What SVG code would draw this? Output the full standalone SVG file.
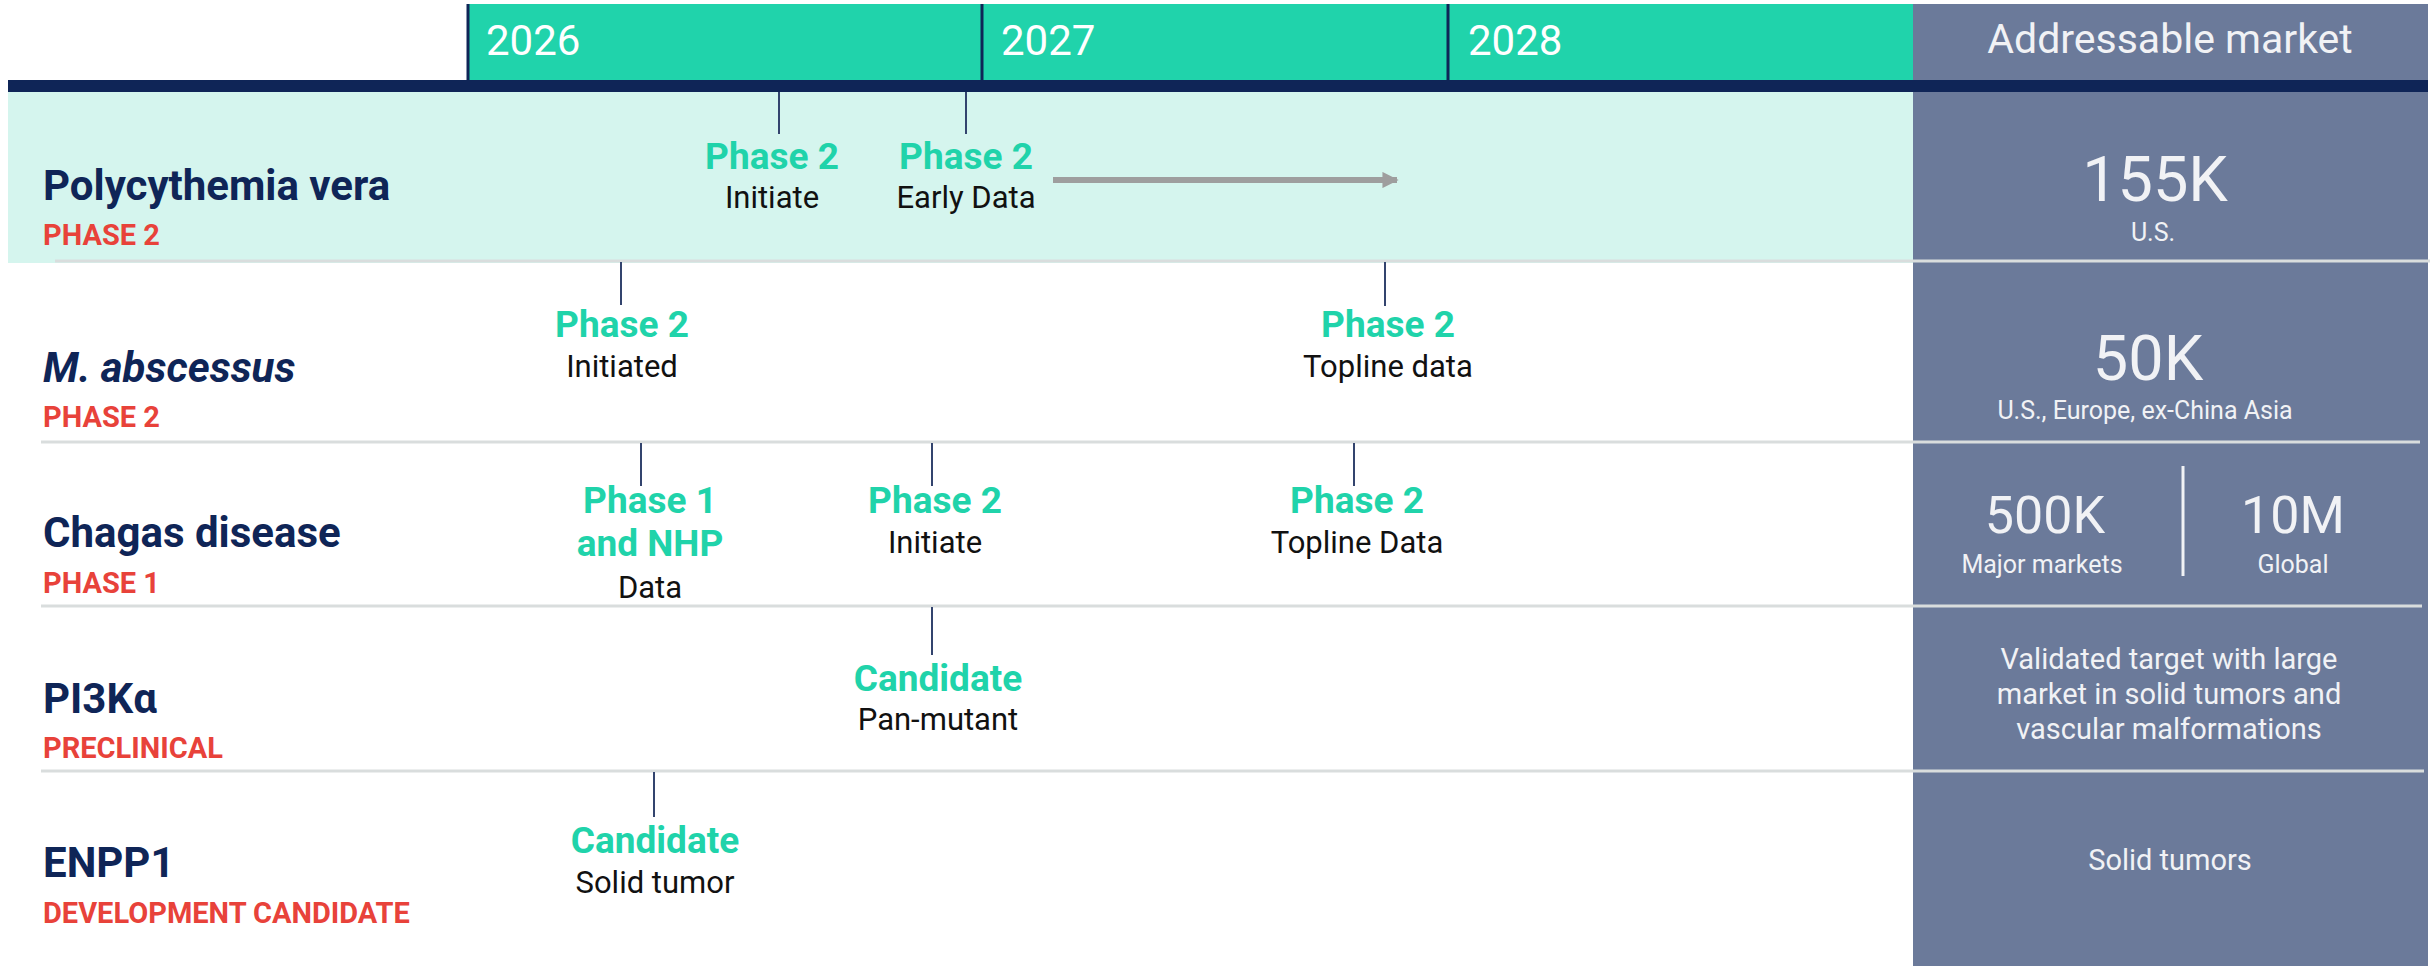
<svg xmlns="http://www.w3.org/2000/svg" width="2435" height="966" viewBox="0 0 2435 966">
  <defs>
    <style>
      text { font-family: Roboto, "Liberation Sans", sans-serif; }
      .year { fill: #ffffff; font-size: 42px; }
      .hdr { fill: #f1f2f5; font-size: 41px; text-anchor: middle; }
      .name { fill: #0f2557; font-size: 42px; font-weight: 700; }
      .stage { fill: #e8423a; font-size: 29px; font-weight: 700; }
      .ms { fill: #20d3aa; font-size: 37px; font-weight: 700; text-anchor: middle; }
      .sub { fill: #111111; font-size: 31px; text-anchor: middle; }
      .big { fill: #f1f2f5; font-size: 63px; text-anchor: middle; }
      .mid { fill: #f1f2f5; font-size: 52px; text-anchor: middle; }
      .small { fill: #f1f2f5; font-size: 25px; text-anchor: middle; }
      .desc { fill: #f1f2f5; font-size: 29px; text-anchor: middle; }
      .tick { stroke: #33446e; stroke-width: 2; }
      .sep { stroke: #d9dddd; stroke-width: 3; }
      .ydiv { stroke: #0f2557; stroke-width: 3; }
    </style>
    <marker id="arrowhead" viewBox="0 0 10 10" refX="9" refY="5" markerWidth="2.7" markerHeight="2.7" orient="auto" markerUnits="strokeWidth">
      <path d="M0,0 L10,5 L0,10 Z" fill="#9e9e9e"/>
    </marker>
  </defs>

  <rect width="2435" height="966" fill="#ffffff"/>

  <!-- timeline header -->
  <g id="header">
    <rect x="467" y="4" width="1446" height="76" fill="#20d3ab"/>
    <line class="ydiv" x1="468" y1="4" x2="468" y2="80"/>
    <line class="ydiv" x1="982" y1="4" x2="982" y2="80"/>
    <line class="ydiv" x1="1448" y1="4" x2="1448" y2="80"/>
    <text class="year" x="486" y="55">2026</text>
    <text class="year" x="1001" y="55">2027</text>
    <text class="year" x="1468" y="55">2028</text>
    <rect x="1913" y="4" width="515" height="76" fill="#6b7a9a"/>
    <text class="hdr" x="2170" y="53">Addressable market</text>
  </g>

  <!-- row backgrounds and market column -->
  <g id="backgrounds">
    <rect x="8" y="92" width="1905" height="171" fill="#d5f5ee"/>
    <rect x="1913" y="92" width="515" height="874" fill="#6b7a9a"/>
    <rect x="8" y="80" width="2420" height="12" fill="#0f2557"/>
  </g>

  <!-- row separators -->
  <g id="separators">
    <line class="sep" x1="55" y1="261" x2="2430" y2="261"/>
    <line class="sep" x1="41" y1="442" x2="2420" y2="442"/>
    <line class="sep" x1="41" y1="606" x2="2422" y2="606"/>
    <line class="sep" x1="41" y1="771" x2="2424" y2="771"/>
  </g>

  <!-- milestone tick connectors and progress arrow -->
  <g id="connectors">
    <line class="tick" x1="779" y1="92" x2="779" y2="134"/>
    <line class="tick" x1="966" y1="92" x2="966" y2="134"/>
    <line class="tick" x1="621" y1="262" x2="621" y2="305"/>
    <line class="tick" x1="1385" y1="262" x2="1385" y2="306"/>
    <line class="tick" x1="641" y1="443" x2="641" y2="486"/>
    <line class="tick" x1="932" y1="443" x2="932" y2="486"/>
    <line class="tick" x1="1354" y1="443" x2="1354" y2="486"/>
    <line class="tick" x1="932" y1="607" x2="932" y2="655"/>
    <line class="tick" x1="654" y1="772" x2="654" y2="817"/>
    <line x1="1053" y1="180" x2="1397" y2="180" stroke="#9e9e9e" stroke-width="6" marker-end="url(#arrowhead)"/>
  </g>

  <!-- Polycythemia vera -->
  <g id="row-polycythemia">
    <text class="name" x="43" y="200">Polycythemia vera</text>
    <text class="stage" x="43" y="245">PHASE 2</text>
    <text class="ms" x="772" y="169">Phase 2</text>
    <text class="sub" x="772" y="208">Initiate</text>
    <text class="ms" x="966" y="169">Phase 2</text>
    <text class="sub" x="966" y="208">Early Data</text>
    <text class="big" x="2155" y="201">155K</text>
    <text class="small" x="2153" y="241">U.S.</text>
  </g>

  <!-- M. abscessus -->
  <g id="row-abscessus">
    <text class="name" x="43" y="382" font-style="italic">M. abscessus</text>
    <text class="stage" x="43" y="427">PHASE 2</text>
    <text class="ms" x="622" y="337">Phase 2</text>
    <text class="sub" x="622" y="377">Initiated</text>
    <text class="ms" x="1388" y="337">Phase 2</text>
    <text class="sub" x="1388" y="377">Topline data</text>
    <text class="big" x="2148" y="380">50K</text>
    <text class="small" x="2145" y="419">U.S., Europe, ex-China Asia</text>
  </g>

  <!-- Chagas disease -->
  <g id="row-chagas">
    <text class="name" x="43" y="547">Chagas disease</text>
    <text class="stage" x="43" y="593">PHASE 1</text>
    <text class="ms" x="650" y="513">Phase 1</text>
    <text class="ms" x="650" y="556">and NHP</text>
    <text class="sub" x="650" y="598">Data</text>
    <text class="ms" x="935" y="513">Phase 2</text>
    <text class="sub" x="935" y="553">Initiate</text>
    <text class="ms" x="1357" y="513">Phase 2</text>
    <text class="sub" x="1357" y="553">Topline Data</text>
    <text class="mid" x="2045" y="533">500K</text>
    <text class="small" x="2042" y="573" font-size="26">Major markets</text>
    <line x1="2183" y1="466" x2="2183" y2="576" stroke="#f1f2f5" stroke-width="3"/>
    <text class="mid" x="2293" y="533">10M</text>
    <text class="small" x="2293" y="573" font-size="26">Global</text>
  </g>

  <!-- PI3Kα -->
  <g id="row-pi3k">
    <text class="name" x="43" y="713">PI3Kα</text>
    <text class="stage" x="43" y="758">PRECLINICAL</text>
    <text class="ms" x="938" y="691">Candidate</text>
    <text class="sub" x="938" y="730">Pan-mutant</text>
    <text class="desc" x="2169" y="669">Validated target with large</text>
    <text class="desc" x="2169" y="704">market in solid tumors and</text>
    <text class="desc" x="2169" y="739">vascular malformations</text>
  </g>

  <!-- ENPP1 -->
  <g id="row-enpp1">
    <text class="name" x="43" y="877">ENPP1</text>
    <text class="stage" x="43" y="923">DEVELOPMENT CANDIDATE</text>
    <text class="ms" x="655" y="853">Candidate</text>
    <text class="sub" x="655" y="893">Solid tumor</text>
    <text class="desc" x="2170" y="870" font-size="32">Solid tumors</text>
  </g>
</svg>
